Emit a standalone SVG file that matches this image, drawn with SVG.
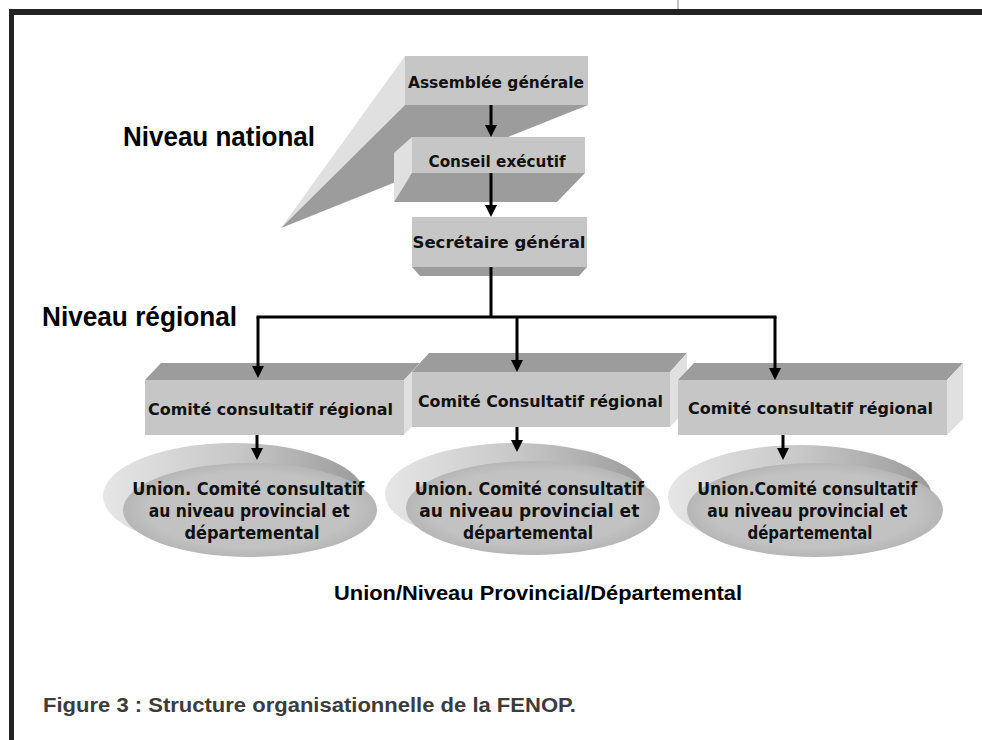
<svg xmlns="http://www.w3.org/2000/svg" width="982" height="740" viewBox="0 0 982 740">
  <defs>
    <marker id="arrow" viewBox="0 0 12 12" refX="0" refY="6" markerWidth="12" markerHeight="12" markerUnits="userSpaceOnUse" orient="auto">
      <path d="M0,0 L12,6 L0,12 z" fill="#000"/>
    </marker>
    <linearGradient id="rim" x1="0" y1="0" x2="1" y2="0">
      <stop offset="0" stop-color="#e6e6e6"/>
      <stop offset="0.5" stop-color="#c8c8c8"/>
      <stop offset="1" stop-color="#9a9a9a"/>
    </linearGradient>
    <radialGradient id="disc" cx="0.5" cy="0.5" r="0.5">
      <stop offset="0.8" stop-color="#c2c2c2"/>
      <stop offset="1" stop-color="#b6b6b6"/>
    </radialGradient>
  </defs>
  <style>
    .front { fill: #c6c6c6; }
    .dark { fill: #9c9c9c; }
    .light { fill: #e0e0e0; }
    .node { font-family: "DejaVu Sans", "Liberation Sans", sans-serif; font-stretch: condensed; font-weight: bold; fill: #111; }
    .lbl { font-family: "Liberation Sans", Arial, sans-serif; font-weight: bold; fill: #000; }
    .conn { stroke: #000; stroke-width: 3; fill: none; }
  </style>

  <rect width="982" height="740" fill="#fff"/>

  <!-- page frame -->
  <line x1="678" y1="0" x2="678" y2="10" stroke="#8a8a8a" stroke-width="1"/>
  <rect x="9" y="9" width="973" height="6" fill="#222"/>
  <rect x="9" y="9" width="5" height="731" fill="#222"/>

  <!-- level labels -->
  <text class="lbl" x="123" y="146" font-size="28" textLength="192" lengthAdjust="spacingAndGlyphs">Niveau national</text>
  <text class="lbl" x="42" y="326" font-size="27" textLength="195" lengthAdjust="spacingAndGlyphs">Niveau régional</text>

  <!-- Assemblée générale with its long extrusion -->
  <g id="assemblee">
    <polygon class="light" points="405,56 405,105 281,228"/>
    <polygon class="dark" points="405,105 588,105 281,228"/>
    <rect class="front" x="405" y="56" width="183" height="49"/>
    <text class="node" x="496" y="88" font-size="16" text-anchor="middle" textLength="176" lengthAdjust="spacingAndGlyphs">Assemblée générale</text>
  </g>

  <!-- Conseil exécutif -->
  <g id="conseil">
    <polygon class="light" points="412,137 394,153 394,202 412,173"/>
    <polygon class="dark" points="412,173 585,173 557,202 394,202"/>
    <rect class="front" x="412" y="137" width="173" height="36"/>
    <text class="node" x="497" y="167" font-size="16" text-anchor="middle" textLength="137" lengthAdjust="spacingAndGlyphs">Conseil exécutif</text>
  </g>

  <!-- Secrétaire général -->
  <g id="secretaire">
    <polygon class="dark" points="412,267 587,267 579,276 420,276"/>
    <rect class="front" x="412" y="217" width="175" height="50"/>
    <text class="node" x="499" y="248" font-size="16" text-anchor="middle" textLength="173" lengthAdjust="spacingAndGlyphs">Secrétaire général</text>
  </g>

  <!-- regional committees -->
  <g id="comite-1">
    <polygon class="dark" points="145,380 161,363 420,363 404,380"/>
    <polygon class="light" points="404,380 420,363 420,418 404,435"/>
    <rect class="front" x="145" y="380" width="259" height="55"/>
    <text class="node" x="148" y="415" font-size="16" textLength="245" lengthAdjust="spacingAndGlyphs">Comité consultatif régional</text>
  </g>
  <g id="comite-2">
    <polygon class="dark" points="412,372 429,353 687,353 670,372"/>
    <polygon class="light" points="670,372 687,353 687,409 670,427"/>
    <rect class="front" x="412" y="372" width="258" height="55"/>
    <text class="node" x="418" y="407" font-size="16" textLength="245" lengthAdjust="spacingAndGlyphs">Comité Consultatif régional</text>
  </g>
  <g id="comite-3">
    <polygon class="dark" points="678,380 694,363 963,363 947,380"/>
    <polygon class="light" points="947,380 963,363 963,419 947,435"/>
    <rect class="front" x="678" y="380" width="269" height="55"/>
    <text class="node" x="688" y="414" font-size="16" textLength="245" lengthAdjust="spacingAndGlyphs">Comité consultatif régional</text>
  </g>

  <!-- provincial / departmental unions -->
  <g id="union-1">
    <ellipse cx="234" cy="496" rx="131" ry="53" fill="url(#rim)"/>
    <ellipse cx="250" cy="510" rx="127" ry="47" fill="url(#disc)"/>
    <text class="node" font-size="17" text-anchor="middle">
      <tspan x="251" y="495" textLength="232" lengthAdjust="spacingAndGlyphs">Union. Comité consultatif</tspan>
      <tspan x="252" y="517" textLength="201" lengthAdjust="spacingAndGlyphs">au niveau provincial et</tspan>
      <tspan x="252" y="539" textLength="135" lengthAdjust="spacingAndGlyphs">départemental</tspan>
    </text>
  </g>
  <g id="union-2">
    <ellipse cx="516" cy="494" rx="131" ry="51" fill="url(#rim)"/>
    <ellipse cx="533" cy="508" rx="127" ry="47" fill="url(#disc)"/>
    <text class="node" font-size="17" text-anchor="middle">
      <tspan x="532" y="495" textLength="229" lengthAdjust="spacingAndGlyphs">Union. Comité consultatif</tspan>
      <tspan x="532" y="517" textLength="220" lengthAdjust="spacingAndGlyphs">au niveau provincial et</tspan>
      <tspan x="528" y="539" textLength="130" lengthAdjust="spacingAndGlyphs">départemental</tspan>
    </text>
  </g>
  <g id="union-3">
    <ellipse cx="800" cy="497" rx="132" ry="52" fill="url(#rim)"/>
    <ellipse cx="815" cy="510" rx="128" ry="47" fill="url(#disc)"/>
    <text class="node" font-size="17" text-anchor="middle">
      <tspan x="810" y="495" textLength="220" lengthAdjust="spacingAndGlyphs">Union.Comité consultatif</tspan>
      <tspan x="810" y="517" textLength="200" lengthAdjust="spacingAndGlyphs">au niveau provincial et</tspan>
      <tspan x="810" y="539" textLength="125" lengthAdjust="spacingAndGlyphs">départemental</tspan>
    </text>
  </g>

  <!-- connectors -->
  <g id="connectors">
    <line class="conn" x1="491" y1="105" x2="491" y2="125" marker-end="url(#arrow)"/>
    <line class="conn" x1="491" y1="173" x2="491" y2="205" marker-end="url(#arrow)"/>
    <line class="conn" x1="491" y1="267" x2="491" y2="317"/>
    <line class="conn" x1="256.5" y1="317" x2="776.5" y2="317"/>
    <line class="conn" x1="258" y1="317" x2="258" y2="366" marker-end="url(#arrow)"/>
    <line class="conn" x1="517" y1="317" x2="517" y2="360" marker-end="url(#arrow)"/>
    <line class="conn" x1="775" y1="317" x2="775" y2="368" marker-end="url(#arrow)"/>
    <line class="conn" x1="257" y1="435" x2="257" y2="448" marker-end="url(#arrow)"/>
    <line class="conn" x1="517" y1="427" x2="517" y2="440" marker-end="url(#arrow)"/>
    <line class="conn" x1="783" y1="435" x2="783" y2="448" marker-end="url(#arrow)"/>
  </g>

  <text class="lbl" x="538" y="600" font-size="20" text-anchor="middle" textLength="408" lengthAdjust="spacingAndGlyphs">Union/Niveau Provincial/Départemental</text>
  <text x="43" y="712" font-family="Liberation Sans, Arial, sans-serif" font-weight="bold" font-size="20" fill="#3c3c3c" textLength="533" lengthAdjust="spacingAndGlyphs">Figure 3 : Structure organisationnelle de la FENOP.</text>
</svg>
